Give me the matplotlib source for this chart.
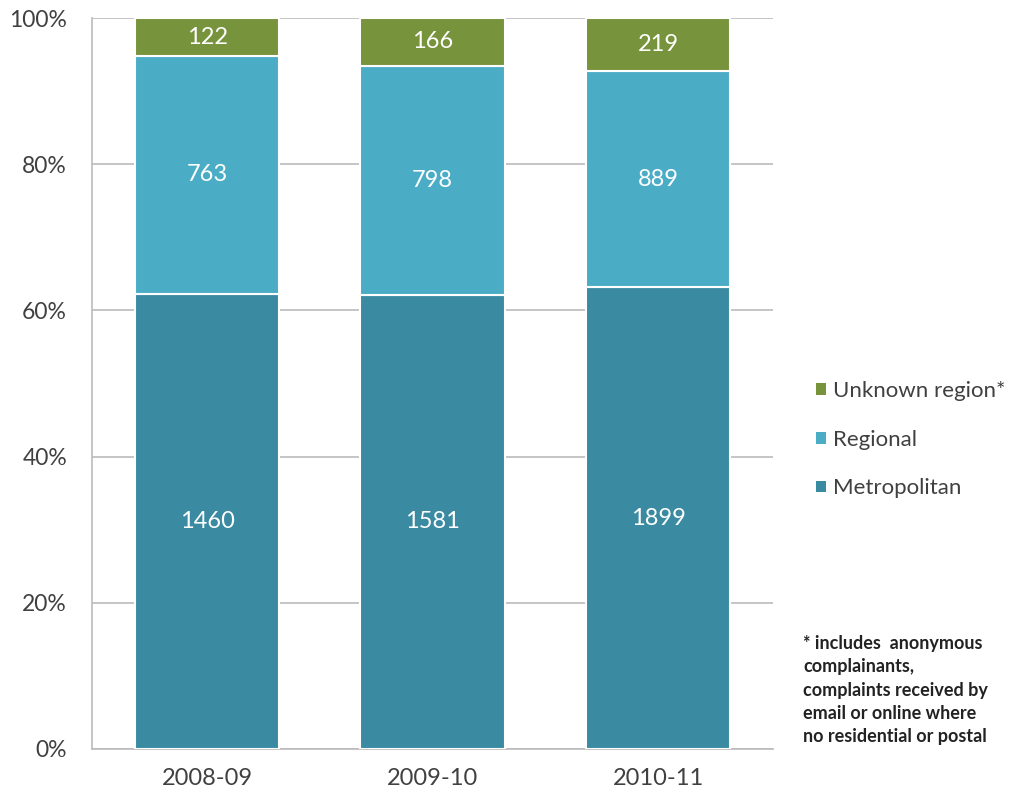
import matplotlib.pyplot as plt
from matplotlib.patches import Patch
import numpy as np

years = ['2008-09', '2009-10', '2010-11']
metropolitan = [1460, 1581, 1899]
regional = [763, 798, 889]
unknown = [122, 166, 219]

series_names = ['Metropolitan', 'Regional', 'Unknown region*']
colors = ['#3A8BA2', '#4BACC6', '#77933C']

plt.rcParams['font.family'] = ['Lato', 'DejaVu Sans']

fig = plt.figure(figsize=(10.27, 8.05), dpi=100)
ax = fig.add_axes([0.0896, 0.0696, 0.6631, 0.908])

data = np.array([metropolitan, regional, unknown], dtype=float)
totals = data.sum(axis=0)
pct = data / totals * 100

x = np.arange(len(years))
bottom = np.zeros(len(years))
for vals, raw, color in zip(pct, data, colors):
    ax.bar(x, vals, width=0.64, bottom=bottom, color=color,
           edgecolor='white', linewidth=1.5, zorder=3)
    for xi, b, v, r in zip(x, bottom, vals, raw):
        ax.text(xi, b + v / 2, f'{int(r)}', ha='center', va='center',
                color='white', fontsize=17, zorder=4)
    bottom += vals

ax.set_xlim(-0.51, 2.51)
ax.set_ylim(0, 100)
ax.set_yticks(np.arange(0, 101, 20))
ax.set_yticklabels([f'{t}%' for t in range(0, 101, 20)])
ax.set_xticks(x)
ax.set_xticklabels(years)
ax.yaxis.grid(True, color='#BBBBBB', linewidth=1.2, zorder=0)
ax.tick_params(axis='both', length=0, colors='#404040')
ax.tick_params(axis='x', pad=14, labelsize=17)
ax.tick_params(axis='y', pad=18, labelsize=16.5)
for side in ['top', 'right']:
    ax.spines[side].set_visible(False)
ax.spines['bottom'].set_color('#BBBBBB')
ax.spines['left'].set_color('#BBBBBB')
ax.spines['bottom'].set_linewidth(1.2)
ax.spines['left'].set_linewidth(1.2)

handles = [Patch(facecolor=c, label=n) for n, c in zip(series_names, colors)][::-1]
fig.legend(handles=handles, loc='upper left', bbox_to_anchor=(0.775, 0.552),
           frameon=False, fontsize=16, handlelength=0.45, handleheight=0.45,
           handletextpad=0.3, labelspacing=1.3, labelcolor='#404040')

note = ('* includes  anonymous\ncomplainants,\ncomplaints received by\n'
        'email or online where\nno residential or postal')
fig.text(0.782, 0.211, note, fontsize=13, fontweight='bold', color='#222222',
         va='top', ha='left', linespacing=1.45)

fig.savefig('out.png', dpi=100)
